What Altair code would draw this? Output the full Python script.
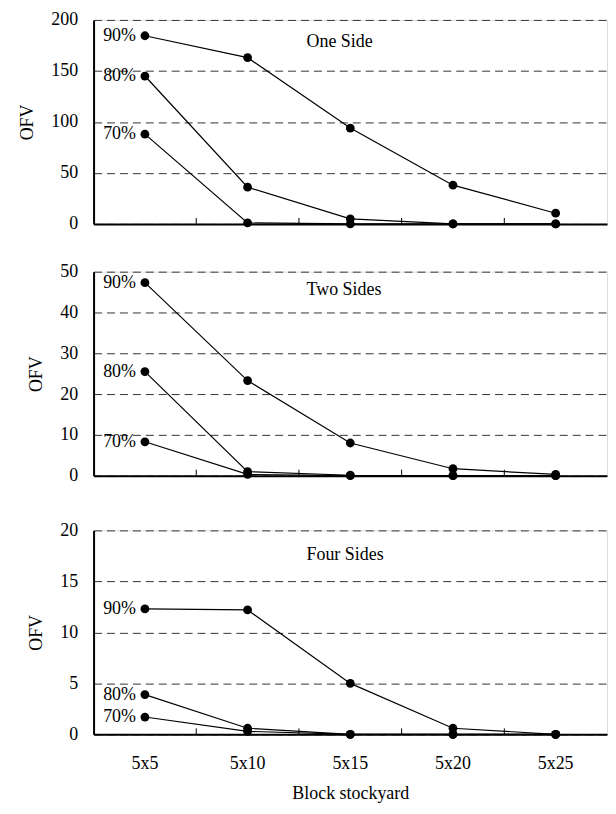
import altair as alt
import pandas as pd

blocks = ["5x5", "5x10", "5x15", "5x20", "5x25"]
levels = ["90%", "80%", "70%"]

one_side = {
    "90%": [184.5, 163, 94, 38, 10.5],
    "80%": [145, 36, 5, 0, 0],
    "70%": [88, 1, 0, 0, 0],
}
two_sides = {
    "90%": [47.3, 23.3, 8, 1.7, 0.3],
    "80%": [25.5, 1, 0.1, 0, 0],
    "70%": [8.3, 0.3, 0, 0, 0],
}
four_sides = {
    "90%": [12.3, 12.2, 5, 0.6, 0],
    "80%": [3.9, 0.6, 0, 0, 0],
    "70%": [1.7, 0.3, 0, 0, 0],
}

panel_titles = ["One Side", "Two Sides", "Four Sides"]
y_max = [200, 50, 20]
y_ticks = [[0, 50, 100, 150, 200], [0, 10, 20, 30, 40, 50], [0, 5, 10, 15, 20]]

FONT = "Liberation Serif"
FS = 18
W, H = 516, 205


def panel(vals, ymax, ticks, title, title_y, bottom):
    rows = []
    for lv in levels:
        for b, v in zip(blocks, vals[lv]):
            rows.append({"level": lv, "block": b, "value": v})
    df = pd.DataFrame(rows)

    xscale = alt.Scale(type="band", domain=blocks, paddingInner=0, paddingOuter=0)
    yscale = alt.Scale(domain=[0, ymax], nice=False)

    if bottom:
        xaxis = alt.Axis(
            labels=True, ticks=False, domainColor="black", domainWidth=2,
            labelFont=FONT, labelFontSize=FS, labelColor="black", labelPadding=20,
            labelAngle=0, title="Block stockyard", titleFont=FONT, titleFontSize=FS,
            titleFontWeight="normal", titleColor="black", titlePadding=12,
        )
    else:
        xaxis = alt.Axis(labels=False, ticks=False, domainColor="black",
                         domainWidth=2, title=None)

    yaxis = alt.Axis(
        values=ticks, grid=True, gridDash=[8, 5], gridColor="#333", gridWidth=1,
        ticks=False, domainColor="black", domainWidth=2,
        labelFont=FONT, labelFontSize=FS, labelColor="black", labelPadding=16,
        title="OFV", titleFont=FONT, titleFontSize=FS, titleFontWeight="normal",
        titleColor="black", titlePadding=14,
    )

    base = alt.Chart(df)
    x = alt.X("block:N", scale=xscale, axis=xaxis, sort=blocks)
    y = alt.Y("value:Q", scale=yscale, axis=yaxis)

    lines = base.mark_line(color="black", strokeWidth=1.2).encode(
        x=x, y=y, detail="level:N"
    )
    pts = base.mark_circle(color="black", opacity=1, size=78).encode(
        x=alt.X("block:N", scale=xscale, sort=blocks),
        y=alt.Y("value:Q", scale=yscale),
    )
    labels = base.transform_filter(alt.datum.block == blocks[0]).mark_text(
        align="right", baseline="middle", dx=-9, font=FONT, fontSize=FS, color="black"
    ).encode(
        x=alt.X("block:N", scale=xscale, sort=blocks),
        y=alt.Y("value:Q", scale=yscale),
        text="level:N",
    )
    tick_df = pd.DataFrame({"block": blocks[1:]})
    tick_rules = alt.Chart(tick_df).mark_rule(color="black", strokeWidth=1).encode(
        x=alt.X("block:N", scale=xscale, sort=blocks, bandPosition=0),
        y=alt.value(H),
        y2=alt.value(H - 6),
    )
    ttl = alt.Chart(pd.DataFrame({"t": [title]})).mark_text(
        align="left", baseline="middle", font=FONT, fontSize=FS, color="black"
    ).encode(text="t:N", x=alt.value(214), y=alt.value(title_y))

    return alt.layer(lines, tick_rules, pts, labels, ttl).properties(width=W, height=H)


p1 = panel(one_side, y_max[0], y_ticks[0], panel_titles[0], 22, False)
p2 = panel(two_sides, y_max[1], y_ticks[1], panel_titles[1], 18, False)
p3 = panel(four_sides, y_max[2], y_ticks[2], panel_titles[2], 25, True)

chart = alt.vconcat(
    alt.vconcat(p1, p2, spacing=28), p3, spacing=35
).properties(
    padding={"left": 10, "top": 0, "right": 0, "bottom": 0}
).configure_view(
    stroke="#444", strokeWidth=1.5
).configure(background="white")

chart.save("out.html", embed_options={"renderer": "svg", "actions": False})
